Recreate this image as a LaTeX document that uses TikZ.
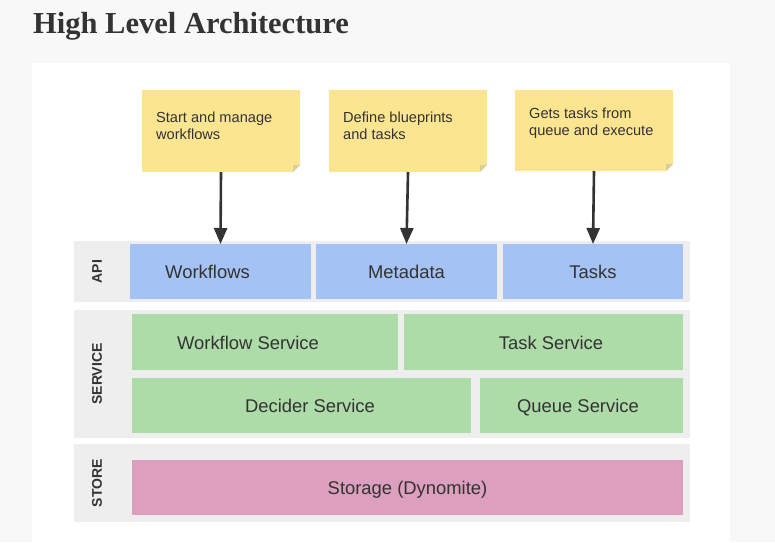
\documentclass[tikz,border=0pt]{standalone}
\usepackage{fontspec}
\setmainfont{Liberation Sans}
\newfontfamily\titlefont{Liberation Serif}
\usetikzlibrary{arrows.meta}

\definecolor{inkgray}{HTML}{333333}
\definecolor{pagegray}{HTML}{F8F8F8}
\definecolor{tiergray}{HTML}{EEEEEE}
\definecolor{noteyellow}{HTML}{FCE590}
\definecolor{foldgray}{HTML}{D9CF9E}
\definecolor{apiblue}{HTML}{A4C2F4}
\definecolor{svcgreen}{HTML}{ADDCA8}
\definecolor{storepink}{HTML}{DC9FBD}

\begin{document}
\begin{tikzpicture}[x=1pt,y=-1pt,
    plainbox/.style={inner sep=0pt, outer sep=0pt, text=inkgray, text height=14pt, text depth=0pt, font=\fontsize{18.4}{22}\selectfont},
    tier/.style={plainbox, fill=tiergray, minimum width=616pt},
    tierlabel/.style={rotate=90, inner sep=0pt, text=inkgray, font=\bfseries\fontsize{14}{16}\selectfont},
    apibox/.style={plainbox, fill=apiblue, minimum height=55pt},
    svcbox/.style={plainbox, fill=svcgreen, minimum height=56pt},
    storebox/.style={plainbox, fill=storepink, minimum height=55pt},
    sticky/.style={plainbox, fill=noteyellow, minimum width=158pt, minimum height=82pt},
    stickytext/.style={inner sep=0pt, anchor=base west, align=left, text=inkgray, font=\fontsize{14.6}{17.5}\selectfont},
    flow/.style={draw=inkgray, line width=2.6pt, -{Triangle[length=16pt,width=13pt]}}]

    % page and white panel
    \fill[pagegray] (0,0) rectangle (775,542);
    \fill[white] (32,63) rectangle (730,542);
    \useasboundingbox (0,0) rectangle (775,542);

    \node[anchor=base west, inner sep=0pt, text=inkgray, font=\titlefont\bfseries\fontsize{30.5}{36}\selectfont] (title) at (33,33) {High Level Architecture};

    % tiers
    \node[tier, minimum height=61pt] (apitier) at (382,271.5) {};
    \node[tier, minimum height=128pt] (svctier) at (382,374) {};
    \node[tier, minimum height=78pt] (storetier) at (382,483) {};
    \node[tierlabel] (apilabel) at (97,271.5) {API};
    \node[tierlabel] (svclabel) at (97,374) {SERVICE};
    \node[tierlabel] (storelabel) at (97,483) {STORE};

    % api (a \kern moves the text off the box centre by half its size)
    \node[apibox, minimum width=181pt] (wfapi) at (220.5,271.5) {\kern-26pt Workflows};
    \node[apibox, minimum width=181pt] (mdapi) at (406.5,271.5) {Metadata};
    \node[apibox, minimum width=180pt] (tkapi) at (593,271.5) {Tasks};

    % service
    \node[svcbox, minimum width=266pt] (wfsvc) at (265,342) {\kern-34pt Workflow Service};
    \node[svcbox, minimum width=279pt] (tksvc) at (543.5,342) {\kern15pt Task Service};
    \node[svcbox, minimum width=339pt, minimum height=55pt] (decsvc) at (301.5,405.5) {\kern17pt Decider Service};
    \node[svcbox, minimum width=203pt, minimum height=55pt] (qsvc) at (581.5,405.5) {\kern-7pt Queue Service};

    % store
    \node[storebox, minimum width=551pt] (storage) at (407.5,487.5) {Storage (Dynomite)};

    % sticky notes
    \node[sticky] (wfnote) at (221,131) {};
    \node[sticky] (mdnote) at (408,131) {};
    \node[sticky, minimum height=81pt] (tknote) at (594,130.5) {};
    \foreach \n in {wfnote,mdnote,tknote} {
        \fill[white] ([xshift=-7pt]\n.south east) -- (\n.south east) -- ([yshift=7pt]\n.south east) -- cycle;
        \fill[foldgray] ([xshift=-7pt]\n.south east) -- ([yshift=7pt]\n.south east) -- ([xshift=-7pt,yshift=7pt]\n.south east) -- cycle;
    }
    \node[stickytext] (wfnotetext) at (156,139.5) {Start and manage\\workflows};
    \node[stickytext] (mdnotetext) at (343,139.5) {Define blueprints\\and tasks};
    \node[stickytext] (tknotetext) at (529,135.7) {Gets tasks from\\queue and execute};

    \draw[flow] (wfnote.south) -- (wfapi.north);
    \draw[flow] (mdnote.south) -- (mdapi.north);
    \draw[flow] (tknote.south) -- (tkapi.north);
\end{tikzpicture}
\end{document}
